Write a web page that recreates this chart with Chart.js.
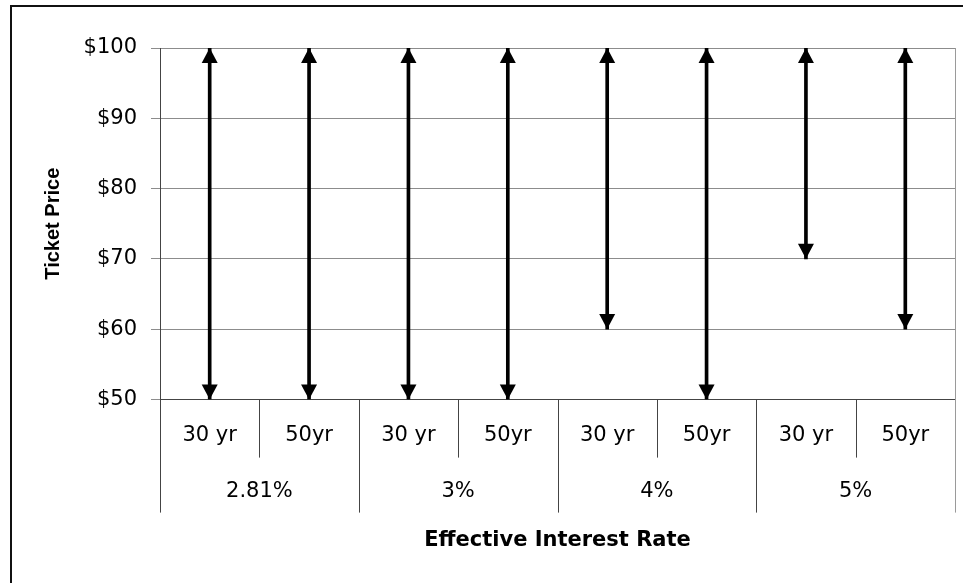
<!DOCTYPE html>
<html>
<head>
<meta charset="utf-8">
<script src="https://cdn.jsdelivr.net/npm/chart.js@4.4.1/dist/chart.umd.min.js"></script>
<style>
  html, body { margin: 0; padding: 0; background: #fff; }
  #wrap { position: relative; width: 963px; height: 583px; overflow: hidden; }
  #frame { position: absolute; left: 10px; top: 5px; width: 980px; height: 600px;
           border-left: 2px solid #111; border-top: 2px solid #111; pointer-events: none; }
</style>
</head>
<body>
<div id="wrap">
  <canvas id="chart"></canvas>
  <div id="frame"></div>
</div>
<script>
const terms     = ["30 yr", "50yr", "30 yr", "50yr", "30 yr", "50yr", "30 yr", "50yr"]
const rates     = ["2.81%", "3%", "4%", "5%"]
const lowPrice  = [50, 50, 50, 50, 60, 50, 70, 60]
const highPrice = [100, 100, 100, 100, 100, 100, 100, 100]
const priceMin  = 50
const priceMax  = 100
const priceStep = 10

const tickFont  = { family: "'DejaVu Sans', sans-serif", size: 21 }
const gridColor = "#8c8c8c"
const lineColor = "#444"

// draws the two heads of each range arrow on the bar ends
const arrowHeads = {
  id: "arrowHeads",
  afterDatasetsDraw(chart) {
    const ctx = chart.ctx
    const half = 8, len = 15
    ctx.save()
    ctx.fillStyle = "#000"
    chart.getDatasetMeta(0).data.forEach(bar => {
      const { x, y, base } = bar.getProps(["x", "y", "base"], true)
      const top = Math.min(y, base)
      const bottom = Math.max(y, base)
      ctx.beginPath()
      ctx.moveTo(x, top)
      ctx.lineTo(x - half, top + len)
      ctx.lineTo(x + half, top + len)
      ctx.closePath()
      ctx.fill()
      ctx.beginPath()
      ctx.moveTo(x, bottom)
      ctx.lineTo(x - half, bottom - len)
      ctx.lineTo(x + half, bottom - len)
      ctx.closePath()
      ctx.fill()
    })
    ctx.restore()
  }
}

// separators of the two-level category axis, plus the right edge of the plot
const groupLines = {
  id: "groupLines",
  afterDraw(chart) {
    const { ctx, chartArea } = chart
    const x = chart.scales.x
    const x2 = chart.scales.x2
    ctx.save()
    ctx.lineWidth = 1
    for (let i = 0; i <= terms.length; i++) {
      const px = Math.round(x.getPixelForValue(i - 0.5)) + 0.5
      const end = i % 2 === 0 ? x2.top + 40 : x.bottom - 15
      ctx.strokeStyle = i === terms.length ? "#9a9a9a" : lineColor
      ctx.beginPath()
      ctx.moveTo(px, i === terms.length ? chartArea.top : chartArea.bottom)
      ctx.lineTo(px, end)
      ctx.stroke()
    }
    ctx.restore()
  }
}

new Chart(document.getElementById("chart"), {
  type: "bar",
  data: {
    labels: terms,
    datasets: [{
      data: terms.map((_, i) => [lowPrice[i], highPrice[i]]),
      backgroundColor: "#000",
      borderWidth: 0,
      borderSkipped: false,
      barThickness: 3,
      xAxisID: "x",
      yAxisID: "y"
    }]
  },
  options: {
    responsive: true,
    maintainAspectRatio: false,
    animation: false,
    layout: { padding: { left: 37, top: 48, right: 8, bottom: 26 } },
    plugins: {
      legend: { display: false },
      tooltip: { enabled: false }
    },
    scales: {
      x: {
        type: "category",
        weight: 0,
        offset: true,
        grid: { display: false, drawTicks: false },
        border: { color: lineColor },
        ticks: {
          color: "#000",
          font: tickFont,
          padding: 24,
          autoSkip: false,
          maxRotation: 0
        }
      },
      x2: {
        type: "category",
        position: "bottom",
        weight: 1,
        labels: rates,
        offset: true,
        grid: { display: false, drawTicks: false },
        border: { display: false },
        ticks: {
          color: "#000",
          font: tickFont,
          padding: 6,
          autoSkip: false,
          maxRotation: 0
        },
        title: {
          display: true,
          text: "Effective Interest Rate",
          color: "#000",
          font: { family: "'DejaVu Sans', sans-serif", size: 21, weight: "bold" },
          padding: { top: 18, bottom: 4 }
        }
      },
      y: {
        min: priceMin,
        max: priceMax,
        afterFit: scale => { scale.width = 123 },
        grid: { color: gridColor, tickColor: gridColor, tickLength: 9 },
        border: { color: lineColor },
        ticks: {
          stepSize: priceStep,
          padding: 14,
          color: "#000",
          font: tickFont,
          callback: v => "$" + v
        },
        title: {
          display: true,
          text: "Ticket Price",
          color: "#000",
          font: { family: "'Liberation Sans', Arial, sans-serif", size: 20, weight: "bold" },
          padding: { top: 4, bottom: 4 }
        }
      }
    }
  },
  plugins: [arrowHeads, groupLines]
})
</script>
</body>
</html>
